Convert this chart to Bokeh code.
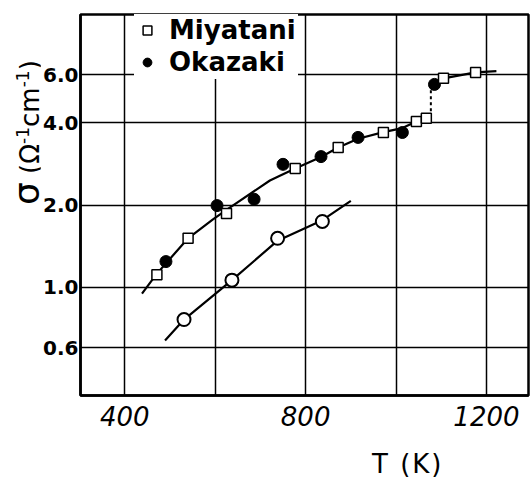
from bokeh.plotting import figure
from bokeh.models import (FixedTicker, PrintfTickFormatter, Legend, LegendItem,
                          Range1d, Div)
from bokeh.layouts import row, column
from bokeh.embed import file_html
from bokeh.resources import INLINE

# ---- data ----
temp_miyatani = [471, 540, 625, 777, 872, 972, 1045, 1067, 1105, 1176]
sigma_miyatani = [1.11, 1.51, 1.86, 2.72, 3.25, 3.69, 4.05, 4.16, 5.83, 6.13]

temp_okazaki = [491, 604, 686, 750, 834, 916, 1014, 1085]
sigma_okazaki = [1.24, 1.99, 2.10, 2.82, 3.01, 3.54, 3.69, 5.54]

temp_open = [531, 637, 738, 837]
sigma_open = [0.76, 1.06, 1.51, 1.74]

# hand-drawn guide curves
upper_fit_T = [438, 471, 540, 595, 633, 721, 743, 777, 834, 872, 916, 972, 1014, 1045, 1067, 1078]
upper_fit_sigma = [0.946, 1.12, 1.51, 1.77, 1.96, 2.46, 2.56, 2.72, 3.0, 3.25, 3.5, 3.70, 3.83, 4.05, 4.16, 4.2]
jump_T = [1077, 1077]
jump_sigma = [4.2, 5.3]
high_fit_T = [1085, 1105, 1176, 1222]
high_fit_sigma = [5.54, 5.83, 6.13, 6.2]
lower_fit_T = [489, 531, 637, 738, 837, 900]
lower_fit_sigma = [0.636, 0.76, 1.06, 1.48, 1.76, 2.07]

x_ticks = [400, 600, 800, 1000, 1200]
x_hidden = [600, 1000]
y_ticks = [0.6, 1.0, 2.0, 4.0, 6.0]

x_title = "T (K)"

# ---- figure ----
p = figure(width=490, height=450, x_range=Range1d(302, 1293), y_range=Range1d(0.4, 10),
           y_axis_type="log", output_backend="svg", toolbar_location=None,
           min_border_left=38, min_border_right=2, min_border_top=14, min_border_bottom=55)
p.background_fill_color = "white"
p.border_fill_color = "white"
p.outline_line_color = "black"
p.outline_line_width = 2.5

xt = FixedTicker(ticks=x_ticks, minor_ticks=[])
yt = FixedTicker(ticks=y_ticks, minor_ticks=[])
p.xaxis.ticker = xt
p.yaxis.ticker = yt
p.xgrid.ticker = xt
p.ygrid.ticker = yt
p.xaxis.major_label_overrides = {t: "" for t in x_hidden}
p.yaxis.formatter = PrintfTickFormatter(format="%.1f")

for g in (p.xgrid, p.ygrid):
    g.grid_line_color = "black"
    g.grid_line_width = 1.5
    g.grid_line_alpha = 1.0

for ax in (p.xaxis, p.yaxis):
    ax.axis_line_width = 2.5
    ax.axis_line_color = "black"
    ax.major_tick_in = 0
    ax.major_tick_out = 0
    ax.minor_tick_in = 0
    ax.minor_tick_out = 0
    ax.major_label_text_color = "black"

p.yaxis.major_label_text_font = "DejaVu Sans"
p.yaxis.major_label_text_font_style = "bold"
p.yaxis.major_label_text_font_size = "20px"
p.yaxis.major_label_standoff = 2

p.xaxis.major_label_text_font = "DejaVu Sans"
p.xaxis.major_label_text_font_style = "italic"
p.xaxis.major_label_text_font_size = "26px"
p.xaxis.major_label_standoff = 10

# ---- curves ----
lw = 2.2
p.line(upper_fit_T, upper_fit_sigma, line_color="black", line_width=lw)
p.line(jump_T, jump_sigma, line_color="black", line_width=2, line_dash="3 3")
p.line(high_fit_T, high_fit_sigma, line_color="black", line_width=lw)
p.line(lower_fit_T, lower_fit_sigma, line_color="black", line_width=lw)

# ---- markers ----
r_open = p.scatter(temp_open, sigma_open, marker="circle", size=13,
                   fill_color="white", line_color="black", line_width=2)
r_ok = p.scatter(temp_okazaki, sigma_okazaki, marker="circle", size=12,
                 fill_color="black", line_color="black")
r_mi = p.scatter(temp_miyatani, sigma_miyatani, marker="square", size=10,
                 fill_color="white", line_color="black", line_width=1.5)

legend = Legend(items=[LegendItem(label="Miyatani", renderers=[r_mi]),
                       LegendItem(label="Okazaki", renderers=[r_ok])],
                location=(54, 316))
legend.label_text_font = "DejaVu Sans"
legend.label_text_font_style = "bold"
legend.label_text_font_size = "26px"
legend.label_text_color = "black"
legend.glyph_width = 22
legend.glyph_height = 22
legend.label_standoff = 11
legend.spacing = 2
legend.padding = 2
legend.margin = 0
legend.border_line_alpha = 0
legend.background_fill_color = "white"
legend.background_fill_alpha = 1.0
p.add_layout(legend)

# ---- axis titles (HTML text) ----
y_html = (
    '<div style="position:absolute; left:7px; top:205px; transform-origin:0 0; '
    'transform:rotate(-90deg); white-space:nowrap; font-family:\'DejaVu Sans\'; '
    'font-size:26px; line-height:40px; color:black;">'
    '<span style="font-size:36px;">σ</span>'
    ' (Ω<sup style="font-size:17px; line-height:0;">-1</sup>cm'
    '<sup style="font-size:17px; line-height:0;">-1</sup>)</div>'
)
ydiv = Div(text=y_html, width=40, height=480, margin=0,
           styles={"position": "relative", "overflow": "visible"})

x_html = (
    '<div style="margin-left:332px; font-family:\'DejaVu Sans\'; font-size:26px; '
    'line-height:28px; white-space:nowrap; color:black; letter-spacing:2px;">'
    + x_title + '</div>'
)
xdiv = Div(text=x_html, width=490, height=30, margin=0,
           styles={"overflow": "visible"})

layout = row(ydiv, column(p, xdiv, spacing=0), spacing=0)

open("out.html", "w").write(file_html(layout, INLINE))
